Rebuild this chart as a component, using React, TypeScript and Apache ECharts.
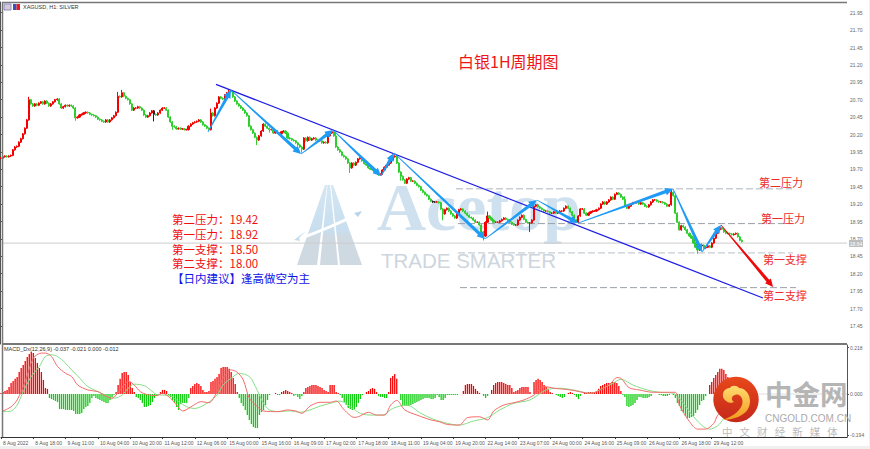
import React, { useEffect, useRef } from "react";
import * as echarts from "echarts";

const SLOTS = 420;
const dateLabels = ["8 Aug 2022","8 Aug 18:00","9 Aug 11:00","10 Aug 04:00","10 Aug 20:00","11 Aug 12:00","12 Aug 06:00","15 Aug 00:00","15 Aug 16:00","16 Aug 09:00","17 Aug 02:00","17 Aug 18:00","18 Aug 11:00","19 Aug 04:00","19 Aug 20:00","22 Aug 14:00","23 Aug 07:00","24 Aug 00:00","24 Aug 16:00","25 Aug 09:00","26 Aug 02:00","26 Aug 18:00","29 Aug 12:00"];
const priceTicks = [21.95,21.7,21.45,21.2,20.95,20.7,20.45,20.2,19.95,19.7,19.45,19.2,18.95,18.7,18.45,18.2,17.95,17.7,17.45];
const macdTicks = [0.218,0,-0.194];
const lastPrice = 18.64;

const closes = [19.86,19.88,19.89,19.88,19.89,19.90,19.98,20.02,20.03,20.09,20.14,20.21,20.29,20.41,
20.70,20.64,20.61,20.64,20.62,20.65,20.67,20.64,20.68,20.65,
20.61,20.64,20.67,20.70,20.71,20.64,20.58,20.60,20.62,20.61,20.62,20.61,20.58,20.44,20.45,20.48,20.49,20.51,20.52,20.51,20.49,20.48,20.47,20.45,20.42,20.41,20.39,20.38,20.41,20.38,20.41,20.44,20.47,20.52,
20.75,20.74,20.80,20.75,20.72,20.70,20.64,20.55,20.58,20.58,20.60,20.58,20.55,20.48,20.45,20.47,20.51,20.54,20.49,20.48,20.51,20.55,20.58,20.58,20.55,20.45,20.38,20.32,20.31,20.28,20.29,20.28,20.28,20.27,20.27,20.32,20.35,20.37,20.38,20.39,20.41,20.38,20.34,20.32,20.29,20.27,
20.51,20.47,20.58,20.65,20.74,20.72,20.71,20.77,20.80,20.82,20.81,20.74,20.68,20.64,20.61,20.58,20.55,20.51,20.47,20.32,20.27,20.22,20.16,20.12,20.18,20.25,20.35,20.32,20.29,20.27,20.27,20.22,20.25,20.22,20.21,20.24,20.25,20.22,
20.15,20.14,20.12,20.11,20.08,20.05,20.02,19.99,20.15,20.11,20.16,20.12,20.14,20.15,20.12,20.11,20.11,20.08,20.09,20.08,20.18,20.22,20.24,20.18,20.02,19.98,19.95,19.90,19.88,19.85,19.79,19.72,19.79,19.76,19.80,19.85,19.86,19.82,19.78,19.76,19.72,19.70,19.69,19.66,19.65,19.62,19.63,19.69,19.73,19.76,19.79,19.83,19.88,19.89,19.79,19.66,19.60,19.55,19.50,19.56,19.58,19.53,19.53,19.50,19.47,19.45,19.40,19.37,19.34,19.32,19.27,19.24,19.23,19.23,19.23,19.22,19.13,19.06,19.12,19.14,19.10,19.06,19.03,19.00,19.06,19.12,19.13,19.10,19.07,19.04,19.01,19.00,18.97,18.94,18.94,18.90,18.80,18.74,18.94,19.03,19.00,18.97,18.94,18.94,18.94,18.96,18.98,19.00,18.98,18.97,18.94,18.91,18.90,18.90,18.97,19.01,19.04,18.98,18.94,18.93,18.93,18.97,19.17,19.19,19.16,19.14,19.12,19.10,19.10,19.09,19.07,19.07,19.09,19.07,19.07,19.10,19.10,19.14,19.17,19.14,19.09,19.04,18.97,18.94,19.03,19.13,19.13,19.07,19.04,19.07,19.09,19.10,19.10,19.12,19.14,19.20,19.23,19.20,19.23,19.26,19.30,19.27,19.34,19.36,19.34,19.30,19.27,19.17,19.14,19.17,19.20,19.22,19.22,19.23,19.20,19.22,19.20,19.17,19.16,19.19,19.23,19.26,19.26,19.24,19.23,19.23,19.22,19.20,19.17,19.19,19.37,19.32,19.07,18.94,18.83,18.89,18.87,18.83,18.78,18.74,18.71,18.64,18.58,18.54,18.60,18.61,18.57,18.58,18.60,18.58,18.64,18.71,18.78,18.83,18.86,18.84,18.80,18.78,18.78,18.77,18.76,18.77,18.78,18.73,18.68,18.66];

// [bar, extra above the body, extra below the body]
const longWicks = [[14,0.03,0],[37,0,0.03],[58,0.05,0],[60,0.03,0],[76,0,0.09],[85,0,0.04],[104,0.05,0],[113,0.02,0],[127,0,0.06],[133,0,0.03],[149,0,0.04],[166,0.03,0],[173,0,0.06],[198,0,0.05],[219,0,0.08],[239,0,0.05],[241,0.05,0],[262,0,0.12],[264,0.04,0],[309,0.03,0],[332,0.02,0],[345,0,0.04]];
const blackBars = [76,214,215,347];

const histogram = [.005,.009,.014,.019,.033,.052,.061,.071,.080,.103,.122,.136,.155,.174,.188,.197,.193,.169,.146,.122,.103,.066,.028,.024,
-.019,-.024,-.028,-.033,-.038,-.071,-.071,-.071,-.075,-.075,-.075,-.075,-.080,-.094,-.094,-.094,-.089,-.071,-.061,-.056,-.042,-.019,-.009,-.019,-.024,-.028,-.033,-.038,-.042,-.042,-.028,-.014,-.005,
.009,.042,.071,.099,.103,.103,.089,.056,.028,.009,
-.014,-.019,-.028,-.042,-.061,-.061,-.056,-.052,-.038,-.019,-.009,-.005,
.009,.019,.019,.014,
-.005,-.014,-.028,-.042,-.061,-.075,-.047,-.042,-.042,-.042,-.019,
.028,.038,.047,.052,.047,.038,.019,.009,.009,.014,.056,.061,.071,.080,.094,.122,.127,.127,.127,.118,.103,.075,.047,.009,
-.019,-.042,-.056,-.075,-.099,-.122,-.141,-.155,-.160,-.160,-.099,-.085,-.075,-.052,-.028,-.005,
0,0,.005,-.005,-.005,.009,.014,.019,.014,.009,.005,
-.009,-.005,-.014,-.024,-.009,
.009,.028,.033,.038,.042,.042,.042,.038,.033,.028,.019,.014,.009,.042,.042,.042,.009,.005,
-.005,-.019,-.038,-.052,-.066,-.071,-.075,-.071,-.061,-.042,-.024,-.005,
0,.009,.014,.024,.028,.024,.009,
-.009,-.014,-.014,-.019,-.019,
.009,.075,.085,.094,.071,0,
-.028,-.052,-.056,-.056,-.056,-.052,-.047,-.042,-.038,-.033,-.028,-.024,-.019,-.019,-.019,-.024,-.024,-.019,-.005,-.014,-.028,-.028,-.019,-.005,-.005,-.005,-.005,-.005,-.005,0,0,
.014,.042,.047,.047,.047,.038,.024,.014,.005,0,-.009,-.019,-.009,0,.019,.042,.052,.056,.056,.056,.052,.047,.042,.042,.028,.009,.014,.019,.028,.033,.033,.033,.033,.009,0,.056,.066,.071,.066,.056,.042,.033,.024,.009,.005,0,
-.005,-.009,-.014,-.019,-.014,0,.005,.009,.005,-.005,-.014,-.024,-.009,0,.005,.005,.009,.009,.009,.009,.014,.024,.038,.042,.047,.052,.052,.052,.056,.056,.052,.038,.014,
-.005,-.014,-.056,-.061,-.056,-.052,-.042,-.028,-.014,-.014,-.019,-.019,-.019,-.014,-.009,0,0,0,-.005,-.005,-.009,-.009,-.009,-.005,0,-.005,-.019,-.042,-.056,-.080,-.089,-.103,-.113,-.113,-.108,-.103,-.089,-.075,-.052,-.033,-.028,-.009,0,
.042,.056,.075,.089,.103,.118,.118,.113,.094,.080,.066,.052,.038,.028,.019,.014,.009];

const macdLine = [[1,-.08],[5,-.06],[8,-.028],[12,.058],[16,.168],[20,.192],[22,.192],[25,.176],[28,.129],[32,.097],[35,.082],[38,.042],[43,.019],[48,.011],[51,-.005],[55,-.02],[57,-.005],[61,.042],[63,.061],[66,.042],[69,.011],[72,-.002],[77,-.008],[80,.003],[84,-.02],[87,-.052],[90,-.08],[95,-.055],[99,-.036],[103,-.041],[107,.011],[110,.074],[114,.113],[117,.102],[120,.066],[123,-.02],[127,-.06],[130,-.08],[137,-.083],[142,-.075],[146,-.08],[149,-.091],[153,-.057],[158,-.039],[163,-.039],[166,-.033],[170,-.075],[175,-.11],[177,-.107],[182,-.086],[186,-.099],[190,-.099],[193,-.052],[196,-.03],[200,-.075],[206,-.099],[213,-.122],[217,-.13],[221,-.143],[227,-.146],[231,-.111],[237,-.107],[241,-.122],[244,-.08],[249,-.052],[254,-.041],[259,-.028],[264,-.005],[269,.035],[274,.027],[282,.019],[292,.003],[297,.019],[302,.05],[305,.077],[307,.074],[311,.03],[316,.019],[323,.008],[330,.008],[334,.008],[336,-.052],[341,-.13],[345,-.165],[349,-.165],[353,-.138],[355,-.099],[358,-.075],[364,-.03],[367,-.021]];
const signalLine = [[1,-.083],[5,-.08],[8,-.052],[11,.011],[15,.082],[19,.129],[22,.176],[25,.184],[28,.176],[32,.144],[35,.113],[39,.074],[43,.035],[48,.011],[51,-.002],[56,-.02],[60,-.005],[63,.027],[66,.046],[71,.039],[74,.019],[77,-.002],[80,-.005],[84,-.008],[88,-.036],[92,-.06],[96,-.068],[102,-.044],[107,-.005],[110,.042],[114,.074],[118,.097],[123,.082],[126,.035],[130,-.044],[133,-.075],[138,-.083],[143,-.079],[148,-.086],[153,-.075],[158,-.057],[163,-.044],[168,-.033],[173,-.06],[178,-.091],[183,-.099],[189,-.099],[194,-.068],[201,-.052],[208,-.091],[214,-.118],[221,-.138],[227,-.146],[234,-.127],[241,-.111],[247,-.075],[254,-.044],[262,-.028],[270,.019],[277,.027],[285,.016],[292,.003],[298,.027],[303,.05],[307,.069],[313,.042],[320,.019],[326,.008],[333,.003],[338,-.044],[343,-.107],[348,-.154],[351,-.165],[355,-.149],[358,-.115],[364,-.045],[367,-.037]];

const trendLine = [[106.6,20.921],[377.4,17.851]];
// [from bar, from price, to bar, to price, colour index]
const arrows = [
  [102.6,20.236,114,20.839,0],[114,20.839,148.7,19.92,0],[148.7,19.92,164.5,20.265,0],[164.5,20.265,188.3,19.604,0],
  [188.3,19.604,194.7,19.934,0],[194.7,19.934,239.8,18.698,0],[239.8,18.698,265.5,19.259,0],[265.5,19.259,285.8,18.928,0],
  [285.8,18.928,332.9,19.417,0],[332.9,19.417,347.2,18.512,0],[347.2,18.512,356.6,18.9,0],[356.6,18.9,382.4,18.009,1],
];
// [from bar, to bar, price]
const levels = [[225.4,391.8,19.42],[226.4,392.8,18.92],[226.4,392.3,18.5],[227.4,393.8,18.0]];

const categories = Array.from({ length: SLOTS }, (_, i) => (i % 16 === 0 && dateLabels[i / 16]) || "");
const candles = closes.map((c, i) => {
  const o = i === 0 ? c : closes[i - 1];
  const w = longWicks.find((r) => r[0] === i);
  const value = [o, c, Math.min(o, c) - 0.012 - (w ? w[2] : 0), Math.max(o, c) + 0.012 + (w ? w[1] : 0)];
  return blackBars.includes(i) ? { value, itemStyle: { color: "#222", color0: "#222", borderColor: "#222", borderColor0: "#222" } } : { value };
});

echarts.graphic.registerShape("cloudSwirl", echarts.graphic.extendPath(
  "M723 397 C722 390 727 388 730 388 C731 385 737 385 739 388 C745 388 750 394 750 401 C750 409 745 414 738 417 C733 419 727 420 723 420 C730 417 739 413 742 405 C744 399 740 393 735 395 C731 396 731 400 734 402 C731 404 725 402 723 397 Z", {}));

const CJK = '"Noto Sans CJK SC"';
const text = (t: string, x: number, y: number, fill: string, font: string, z = 100, align = "left") => ({
  type: "text", z, silent: true, style: { text: t, x, y, fill, font, textAlign: align, textVerticalAlign: "middle" },
});
const hline = (x1: number, y1: number, x2: number, y2: number, stroke: string, lineWidth: number) => ({
  type: "line", z: 90, silent: true, shape: { x1, y1, x2, y2 }, style: { stroke, lineWidth },
});
const blade = (points: number[][]) => ({
  type: "polygon", z: 0, silent: true, shape: { points },
  style: { fill: new echarts.graphic.LinearGradient(0, 0, 0, 1, [
    { offset: 0, color: "#d3e6f3" }, { offset: 0.58, color: "#c8deee" }, { offset: 0.64, color: "#cfd9e2" }, { offset: 1, color: "#cfd9e2" } ]) },
});

const levelSeries = levels.map((l, i) => ({
  type: "line", xAxisIndex: 2, yAxisIndex: 0, symbol: "none", silent: true, z: 3,
  data: [[l[0], l[2]], [l[1], l[2]]],
  lineStyle: i % 2 === 0 ? { color: "#c7cdd3", width: 1.4, type: [7, 3] } : { color: "#9ba1a8", width: 1, type: [7, 3] },
}));

function buildOption() {
  return {
    animation: false,
    backgroundColor: "#ffffff",
    grid: [
      { left: 0.7, right: 23, top: 2, height: 342 },
      { left: 0.7, right: 23, top: 345, height: 92 },
    ],
    xAxis: [
      { type: "category", gridIndex: 0, data: categories, boundaryGap: false, axisLine: { show: false }, axisTick: { show: false }, axisLabel: { show: false } },
      { type: "category", gridIndex: 1, data: categories, boundaryGap: false,
        axisLine: { show: true, onZero: false, lineStyle: { color: "#333", width: 1 } },
        axisTick: { show: true, length: 2, interval: (i: number) => i % 16 === 0 && i <= 352, lineStyle: { color: "#333" } },
        axisLabel: { show: true, interval: (i: number) => i % 16 === 0 && i <= 352, align: "left", fontSize: 5, color: "#555", margin: 3, padding: [0, 0, 0, 2], fontFamily: "Liberation Sans", hideOverlap: false } },
      { type: "value", gridIndex: 0, min: 0, max: SLOTS - 1, show: false },
    ],
    yAxis: [
      { type: "value", gridIndex: 0, position: "right", min: 17.19, max: 22.104, splitLine: { show: false }, scale: true,
        axisLine: { show: true, lineStyle: { color: "#555" } },
        axisTick: { show: true, length: 2, customValues: priceTicks, lineStyle: { color: "#555" } },
        axisLabel: { show: true, customValues: priceTicks, fontSize: 5, color: "#666", margin: 3, fontFamily: "Liberation Sans", formatter: (v: number) => v.toFixed(2) } },
      { type: "value", gridIndex: 1, position: "right", min: -0.202, max: 0.23, splitLine: { show: false },
        axisLine: { show: true, onZero: false, lineStyle: { color: "#555" } },
        axisTick: { show: true, length: 2, customValues: macdTicks, lineStyle: { color: "#555" } },
        axisLabel: { show: true, customValues: macdTicks, fontSize: 5, color: "#666", margin: 3, fontFamily: "Liberation Sans", formatter: (v: number) => v.toFixed(3) } },
    ],
    series: [
      { type: "line", xAxisIndex: 2, yAxisIndex: 0, symbol: "none", silent: true, z: 1,
        data: [[0, lastPrice], [SLOTS - 1, lastPrice]], lineStyle: { color: "#cccccc", width: 1 } },
      ...levelSeries,
      { type: "candlestick", xAxisIndex: 0, yAxisIndex: 0, barWidth: 1.6, z: 4, silent: true, data: candles,
        itemStyle: { color: "#f40000", color0: "#2fce2f", borderColor: "#f40000", borderColor0: "#2fce2f", borderWidth: 1 } },
      { type: "line", xAxisIndex: 2, yAxisIndex: 0, symbol: "none", silent: true, z: 5,
        data: trendLine, lineStyle: { color: "#1c1ce6", width: 1.3 } },
      { type: "custom", xAxisIndex: 2, yAxisIndex: 0, z: 6, silent: true, data: arrows, encode: { x: [0, 2], y: [1, 3] },
        renderItem: (_: any, api: any) => {
          const a = api.coord([api.value(0), api.value(1)]);
          const b = api.coord([api.value(2), api.value(3)]);
          const len = Math.hypot(b[0] - a[0], b[1] - a[1]);
          const dx = (b[0] - a[0]) / len, dy = (b[1] - a[1]) / len, nx = -dy, ny = dx;
          const head = 8, w0 = 0.4, w1 = 1.7, h = 3.8;
          const neck = [b[0] - dx * head, b[1] - dy * head];
          return {
            type: "polygon",
            shape: { points: [
              [a[0] + nx * w0, a[1] + ny * w0], [neck[0] + nx * w1, neck[1] + ny * w1], [neck[0] + nx * h, neck[1] + ny * h], b,
              [neck[0] - nx * h, neck[1] - ny * h], [neck[0] - nx * w1, neck[1] - ny * w1], [a[0] - nx * w0, a[1] - ny * w0] ] },
            style: { fill: api.value(4) === 1 ? "#ec0a0a" : "#1e9bf5" },
          };
        } },
      { type: "bar", xAxisIndex: 1, yAxisIndex: 1, barWidth: 1.3, z: 2, silent: true, data: histogram,
        itemStyle: { color: (p: any) => (p.value >= 0 ? "#f60000" : "#12cc12") } },
      { type: "line", xAxisIndex: 1, yAxisIndex: 1, symbol: "none", silent: true, z: 3, smooth: 0.3, data: signalLine, lineStyle: { color: "#86de86", width: 1 } },
      { type: "line", xAxisIndex: 1, yAxisIndex: 1, symbol: "none", silent: true, z: 4, smooth: 0.3, data: macdLine, lineStyle: { color: "#f66a6a", width: 1 } },
    ],
    graphic: { elements: [
      // page edges
      { type: "rect", z: 89, silent: true, shape: { x: 869, y: 0, width: 1, height: 449 }, style: { fill: "#f0f0f0" } },
      { type: "rect", z: 89, silent: true, shape: { x: 0, y: 446, width: 870, height: 3 }, style: { fill: "#f0f0f0" } },
      // frame
      hline(2, 2.5, 847, 2.5, "#777", 1.5),
      hline(2.5, 2, 2.5, 437, "#777", 1.5),
      hline(2, 344, 847, 344, "#777", 2),
      // Acetop watermark
      blade([[297, 265], [317, 265], [327, 185], [325, 185]]),
      blade([[320, 265], [338, 265], [330, 185], [327.5, 185]]),
      blade([[340, 265], [362, 265], [333, 185], [331, 185]]),
      { type: "bezierCurve", z: 0, silent: true, shape: { x1: 296, y1: 240, cpx1: 330, cpy1: 228, x2: 362, y2: 212 }, style: { stroke: "#ffffff", lineWidth: 3, fill: "none" } },
      { type: "polygon", z: 0, silent: true, shape: { points: [[362, 211], [354, 213], [358, 217]] }, style: { fill: "#b9d4e8" } },
      { type: "polygon", z: 0, silent: true, shape: { points: [[294, 240], [306, 231], [299, 238], [300, 241]] }, style: { fill: "#c4dcec" } },
      text("Acetop", 377, 207, "#cfe1ef", 'bold 68px "Liberation Serif"', 0),
      text("TRADE SMARTER", 381, 260, "#cdd6de", '20.5px "Liberation Sans"', 0),
      // headers
      { type: "rect", z: 95, silent: true, shape: { x: 4, y: 4, width: 7, height: 6 }, style: { fill: "#d8c8d8", stroke: "#8890c0", lineWidth: 1 } },
      { type: "rect", z: 95, silent: true, shape: { x: 13, y: 4, width: 3.5, height: 6 }, style: { fill: "#3a50c0" } },
      { type: "rect", z: 95, silent: true, shape: { x: 16.5, y: 4, width: 3.5, height: 6 }, style: { fill: "#e02020" } },
      text("XAGUSD, H1: SILVER", 23, 7, "#333", '5.5px "Liberation Sans"'),
      text("MACD_Dx(12,26,9) -0.037 -0.021 0.000 -0.012", 4, 349, "#333", '5.5px "Liberation Sans"'),
      // annotations
      text("白银1H周期图", 458, 61, "#ee1515", `16px ${CJK}`),
      text("第二压力：19.42", 172, 219, "#f01010", `11.5px ${CJK}`),
      text("第一压力：18.92", 172, 233.5, "#f01010", `11.5px ${CJK}`),
      text("第一支撑：18.50", 172, 248.5, "#f01010", `11.5px ${CJK}`),
      text("第二支撑：18.00", 172, 263, "#f01010", `11.5px ${CJK}`),
      text("【日内建议】逢高做空为主", 172, 278, "#1212e8", `11.5px ${CJK}`),
      text("第二压力", 759, 182, "#ee2a2a", `11px ${CJK}`),
      text("第一压力", 761, 218, "#ee2a2a", `11px ${CJK}`),
      text("第一支撑", 763, 259, "#ee2a2a", `11px ${CJK}`),
      text("第二支撑", 763, 295, "#ee2a2a", `11px ${CJK}`),
      // last price tag
      { type: "rect", z: 95, silent: true, shape: { x: 849, y: 240, width: 14, height: 7 }, style: { fill: "#bdbdbd" } },
      text("18.64", 856, 243.5, "#ffffff", '5px "Liberation Sans"', 96, "center"),
      // CNGOLD logo
      hline(759, 394, 847, 394, "#d6d6d6", 0.8),
      { type: "circle", z: 100, silent: true, shape: { cx: 736, cy: 399.5, r: 22.7 },
        style: { fill: new echarts.graphic.LinearGradient(0, 0, 0, 1, [{ offset: 0, color: "#e8481a" }, { offset: 1, color: "#c4281a" }]) } },
      { type: "cloudSwirl", z: 101, silent: true, style: { fill: new echarts.graphic.LinearGradient(0, 0, 0, 1, [{ offset: 0, color: "#ffdc70" }, { offset: 1, color: "#f29a1e" }]) } },
      text("中金网", 765, 392.5, "#b5b5b5", `bold 27.5px ${CJK}`),
      text("CNGOLD.COM.CN", 765, 418, "#aaaaaa", '10px "Liberation Sans"'),
      text("中   文   财   经   新   媒   体", 722, 431, "#bcbcbc", `10.5px ${CJK}`),
    ] },
  };
}

export default function App() {
  const ref = useRef<HTMLDivElement>(null);
  useEffect(() => {
    document.body.style.margin = "0";
    const chart = echarts.init(ref.current as HTMLDivElement, undefined, { renderer: "svg" });
    chart.setOption(buildOption() as any);
    return () => chart.dispose();
  }, []);
  return <div ref={ref} style={{ width: 870, height: 449 }} />;
}
